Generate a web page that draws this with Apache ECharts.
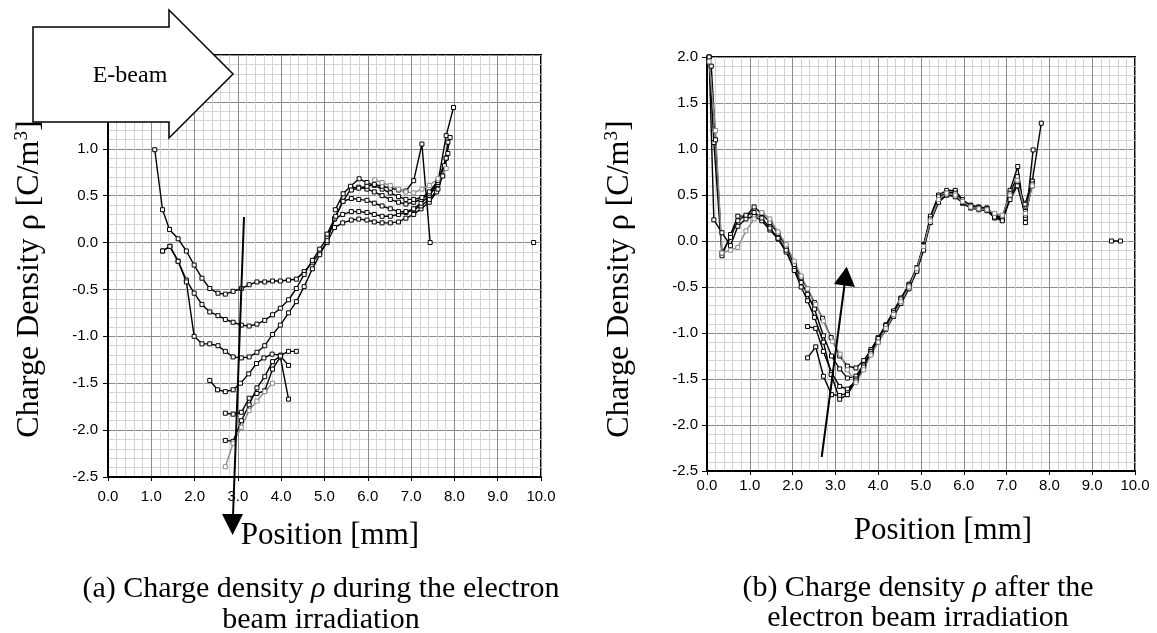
<!DOCTYPE html>
<html>
<head>
<meta charset="utf-8">
<script src="https://cdn.jsdelivr.net/npm/echarts@6/dist/echarts.min.js"></script>
<style type="text/css">
html,body{margin:0;padding:0;background:#fff;}
#chart{width:1157px;height:633px;}
</style>
</head>
<body>
<div id="chart"></div>
<script type="text/javascript">
// x ticks / y ticks
var xTicks = [0, 10, 1];
var yTicks = [-2.5, 2.0, 0.5];

// (a) during irradiation  [position mm, rho C/m3]
var a1 = [[1.08,0.99],[1.26,0.35],[1.42,0.14],[1.62,0.04],[1.81,-0.09],[1.99,-0.24],[2.17,-0.38],[2.35,-0.49],[2.54,-0.54],[2.71,-0.55],[2.89,-0.52],[3.08,-0.49],[3.26,-0.45],[3.44,-0.42],[3.62,-0.42],[3.8,-0.41],[3.98,-0.41],[4.17,-0.40],[4.35,-0.39],[4.53,-0.31],[4.72,-0.21],[4.89,-0.11],[5.06,0.0],[5.23,0.16],[5.42,0.21],[5.62,0.24],[5.79,0.25],[5.98,0.24],[6.15,0.22],[6.33,0.21],[6.52,0.21],[6.71,0.22],[6.88,0.26],[7.06,0.30],[7.23,0.36],[7.42,0.43],[7.59,0.54],[7.73,0.71],[7.85,0.95]];
var a2 = [[1.26,-0.09],[1.43,-0.04],[1.62,-0.2],[1.81,-0.4],[1.99,-0.54],[2.17,-0.66],[2.35,-0.74],[2.54,-0.78],[2.71,-0.82],[2.89,-0.85],[3.08,-0.88],[3.26,-0.89],[3.44,-0.87],[3.62,-0.83],[3.8,-0.77],[3.98,-0.70],[4.17,-0.61],[4.35,-0.49],[4.53,-0.34],[4.72,-0.19],[4.89,-0.07],[5.06,0.05],[5.23,0.25],[5.42,0.30],[5.62,0.33],[5.79,0.33],[5.98,0.32],[6.15,0.30],[6.33,0.28],[6.52,0.28],[6.71,0.30],[6.88,0.32],[7.06,0.35],[7.23,0.39],[7.42,0.46],[7.62,0.57],[7.77,0.82],[7.85,1.07]];
var a3 = [[1.26,-0.09],[1.43,-0.04],[1.62,-0.2],[1.81,-0.42],[1.99,-1.0],[2.17,-1.08],[2.35,-1.08],[2.54,-1.10],[2.71,-1.16],[2.89,-1.22],[3.08,-1.23],[3.26,-1.22],[3.44,-1.17],[3.62,-1.10],[3.8,-0.98],[3.98,-0.88],[4.17,-0.75],[4.35,-0.63],[4.53,-0.47],[4.72,-0.28],[4.89,-0.13],[5.06,0.02],[5.24,0.26],[5.42,0.44],[5.62,0.47],[5.79,0.46],[5.98,0.45],[6.15,0.42],[6.33,0.39],[6.52,0.36],[6.71,0.33],[6.88,0.33],[7.06,0.36],[7.23,0.42],[7.42,0.5],[7.62,0.62],[7.81,0.9]];
var a4 = [[5.06,0.09],[5.26,0.28],[5.43,0.44],[5.62,0.58],[5.79,0.59],[5.98,0.57],[6.15,0.54],[6.33,0.50],[6.52,0.46],[6.71,0.43],[6.88,0.41],[7.06,0.43],[7.23,0.46],[7.42,0.52],[7.62,0.64],[7.81,1.14],[7.98,1.44]];
var a5 = [[5.25,0.35],[5.43,0.52],[5.6,0.6],[5.8,0.68],[5.98,0.64],[6.15,0.61],[6.33,0.57],[6.52,0.53],[6.71,0.49],[6.88,0.46],[7.06,0.46],[7.25,0.48],[7.42,0.54],[7.62,0.66],[7.81,0.9],[7.9,1.12]];
var a6 = [[5.62,0.56],[5.79,0.58],[5.98,0.6],[6.15,0.62],[6.33,0.6],[6.52,0.58],[6.71,0.56],[6.88,0.55],[7.06,0.66],[7.25,1.05],[7.44,0.0]];
var a7 = [[6.16,0.67],[6.33,0.64],[6.52,0.61],[6.71,0.57],[6.88,0.54],[7.06,0.53],[7.25,0.57],[7.42,0.61],[7.62,0.68],[7.81,0.79]];
var aL1 = [[2.35,-1.47],[2.53,-1.57],[2.71,-1.59],[2.89,-1.57],[3.06,-1.50],[3.25,-1.40],[3.43,-1.29],[3.6,-1.23],[3.79,-1.19],[3.99,-1.2],[4.17,-1.16],[4.35,-1.16]];
var aL2 = [[2.71,-1.82],[2.89,-1.83],[3.08,-1.81],[3.26,-1.66],[3.44,-1.61],[3.62,-1.58],[3.8,-1.35],[3.98,-1.22],[4.17,-1.67]];
var aL3 = [[2.71,-2.11],[2.89,-2.12],[3.08,-1.9],[3.26,-1.73],[3.44,-1.55],[3.62,-1.43],[3.8,-1.27],[3.98,-1.21],[4.17,-1.31]];
var aL4 = [[2.71,-2.39],[2.89,-2.14],[3.08,-1.97],[3.26,-1.79],[3.44,-1.69],[3.62,-1.59],[3.8,-1.50]];
var aEnd = [[9.83,0.0]];

// (b) after irradiation
var b1 = [[0.05,2.0],[0.16,1.07],[0.35,-0.16],[0.55,0.07],[0.72,0.27],[0.91,0.27],[1.1,0.37],[1.28,0.30],[1.47,0.2],[1.66,0.08],[1.85,-0.06],[2.04,-0.26],[2.2,-0.4],[2.35,-0.52],[2.51,-0.67],[2.7,-0.84],[2.9,-1.05],[3.1,-1.25],[3.28,-1.36],[3.48,-1.38],[3.66,-1.3],[3.83,-1.18],[4.0,-1.05],[4.18,-0.91],[4.36,-0.76],[4.53,-0.62],[4.72,-0.47],[4.9,-0.29],[5.06,-0.04],[5.22,0.25],[5.41,0.47],[5.6,0.53],[5.8,0.53],[5.97,0.44],[6.16,0.39],[6.35,0.37],[6.54,0.36],[6.72,0.28],[6.9,0.26],[7.08,0.5],[7.25,0.62],[7.43,0.40],[7.6,0.65],[7.81,1.28]];
var b2 = [[0.05,2.0],[0.16,0.23],[0.35,0.09],[0.55,-0.05],[0.72,0.16],[0.91,0.24],[1.1,0.27],[1.28,0.22],[1.47,0.12],[1.66,0.02],[1.85,-0.12],[2.04,-0.3],[2.2,-0.45],[2.35,-0.58],[2.51,-0.74],[2.72,-1.03],[2.91,-1.25],[3.1,-1.39],[3.28,-1.49],[3.48,-1.47],[3.66,-1.34],[3.83,-1.2],[4.0,-1.07],[4.18,-0.93],[4.36,-0.79],[4.53,-0.64],[4.72,-0.49],[4.9,-0.31],[5.06,-0.06],[5.22,0.27],[5.41,0.5],[5.6,0.55],[5.8,0.55],[5.97,0.45],[6.16,0.38],[6.35,0.36],[6.54,0.35],[6.72,0.27],[6.9,0.25],[7.08,0.55],[7.26,0.81],[7.44,0.2],[7.62,0.99]];
var b3 = [[2.35,-0.93],[2.54,-0.95],[2.72,-1.2],[2.91,-1.43],[3.1,-1.58],[3.28,-1.61],[3.48,-1.52],[3.66,-1.36],[3.83,-1.22],[4.0,-1.08],[4.18,-0.94],[4.36,-0.8],[4.53,-0.65],[4.72,-0.5],[4.9,-0.32],[5.06,-0.08],[5.22,0.22],[5.41,0.45],[5.6,0.5],[5.8,0.5],[5.97,0.41],[6.16,0.36],[6.35,0.34],[6.54,0.33],[6.72,0.25],[6.9,0.23],[7.08,0.48],[7.25,0.64],[7.44,0.32],[7.6,0.6]];
var b4 = [[2.35,-1.27],[2.54,-1.15],[2.72,-1.47],[2.91,-1.67],[3.1,-1.68],[3.28,-1.65],[3.48,-1.5],[3.66,-1.35],[3.83,-1.2],[4.0,-1.06],[4.18,-0.92],[4.36,-0.78],[4.53,-0.63],[4.72,-0.48],[4.9,-0.3],[5.06,-0.05],[5.22,0.24],[5.41,0.48],[5.6,0.52],[5.8,0.52],[5.97,0.43],[6.16,0.38],[6.35,0.36],[6.54,0.35],[6.72,0.27],[6.9,0.24],[7.08,0.52],[7.25,0.7],[7.44,0.25],[7.6,0.65]];
var b5 = [[0.05,2.0],[0.1,1.9],[0.2,1.1],[0.35,-0.13],[0.55,0.04],[0.72,0.22],[0.91,0.28],[1.1,0.31],[1.28,0.25],[1.47,0.14],[1.66,0.03],[1.85,-0.1],[2.04,-0.32],[2.2,-0.5],[2.35,-0.65],[2.51,-0.83],[2.72,-1.1],[2.9,-1.45],[3.1,-1.72],[3.28,-1.67],[3.48,-1.52],[3.66,-1.37],[3.83,-1.22],[4.0,-1.1],[4.18,-0.96],[4.36,-0.82],[4.53,-0.68],[4.72,-0.52],[4.9,-0.33],[5.06,-0.1],[5.22,0.2],[5.41,0.42],[5.6,0.5],[5.8,0.48],[5.97,0.42],[6.16,0.36],[6.35,0.35],[6.54,0.34],[6.72,0.26],[6.9,0.22],[7.08,0.45],[7.25,0.6],[7.44,0.28],[7.6,0.62]];
var bGray = [[0.05,1.95],[0.2,1.2],[0.35,-0.13],[0.55,-0.1],[0.72,-0.07],[0.91,0.11],[1.1,0.24],[1.28,0.31],[1.47,0.24],[1.66,0.1],[1.85,-0.04],[2.04,-0.22],[2.2,-0.38],[2.35,-0.52],[2.54,-0.69],[2.72,-0.87],[2.93,-1.09],[3.11,-1.23],[3.28,-1.4],[3.48,-1.54],[3.66,-1.4],[3.83,-1.24],[4.0,-1.1],[4.18,-0.95],[4.36,-0.8],[4.53,-0.66],[4.72,-0.5],[4.9,-0.3],[5.06,-0.06],[5.22,0.22],[5.41,0.45],[5.6,0.52],[5.8,0.5],[5.97,0.43],[6.16,0.37],[6.35,0.35],[6.54,0.34],[6.72,0.3],[6.9,0.28],[7.08,0.5],[7.25,0.66],[7.44,0.3],[7.6,0.6]];
var bEnd = [[9.45,0.0],[9.66,0.0]];

var SERIF = "'Liberation Serif','Times New Roman',serif";
var SANS = "'Liberation Sans',Arial,sans-serif";

function mk(data, idx, col){
    return {
        type:'line', data:data, xAxisIndex:idx, yAxisIndex:idx,
        symbol:'rect', symbolSize:4, showSymbol:true,
        lineStyle:{color:col, width:1.4},
        itemStyle:{color:'#fff', borderColor:col, borderWidth:1},
        animation:false, z:3
    };
}

function xAx(idx, margin){
    return {
        type:'value', gridIndex:idx, min:xTicks[0], max:xTicks[1], interval:xTicks[2],
        axisLine:{show:true, onZero:false, lineStyle:{color:'#000', width:2}},
        axisTick:{show:true, length:4, lineStyle:{color:'#000'}},
        minorTick:{show:false, splitNumber:5},
        splitLine:{show:true, lineStyle:{color:'#8c8c8c', width:1}},
        minorSplitLine:{show:true, lineStyle:{color:'#d4d4d4', width:1}},
        axisLabel:{margin:margin, color:'#000', fontFamily:SANS, fontSize:15,
            formatter:function(v){return v.toFixed(1);}}
    };
}
function yAx(idx, margin){
    return {
        type:'value', gridIndex:idx, min:yTicks[0], max:yTicks[1], interval:yTicks[2],
        axisLine:{show:true, onZero:false, lineStyle:{color:'#000', width:2}},
        axisTick:{show:true, length:5, lineStyle:{color:'#000'}},
        minorTick:{show:false, splitNumber:5},
        splitLine:{show:true, lineStyle:{color:'#8c8c8c', width:1}},
        minorSplitLine:{show:true, lineStyle:{color:'#d4d4d4', width:1}},
        axisLabel:{margin:margin, color:'#000', fontFamily:SANS, fontSize:15,
            formatter:function(v){return v.toFixed(1);}}
    };
}

var chart = echarts.init(document.getElementById('chart'));
var option = {
    backgroundColor:'#fff',
    animation:false,
    grid:[
        {left:108, top:55, width:433, height:422, show:true, borderColor:'#000', borderWidth:2},
        {left:707, top:57, width:428, height:414, show:true, borderColor:'#000', borderWidth:2}
    ],
    xAxis:[xAx(0, 12), xAx(1, 7)],
    yAxis:[yAx(0, 10), yAx(1, 9)],
    series:[
        mk(a1,0,'#000'), mk(a2,0,'#000'), mk(a3,0,'#000'), mk(a4,0,'#000'),
        mk(a5,0,'#000'), mk(a6,0,'#000'), mk(a7,0,'#8a8a8a'),
        mk(aL1,0,'#000'), mk(aL2,0,'#000'), mk(aL3,0,'#000'), mk(aL4,0,'#8a8a8a'),
        mk(aEnd,0,'#000'),
        mk(b1,1,'#000'), mk(b2,1,'#000'), mk(b3,1,'#000'), mk(b4,1,'#000'),
        mk(b5,1,'#000'), mk(bGray,1,'#8a8a8a'), mk(bEnd,1,'#000')
    ],
    graphic:[
        // E-beam block arrow
        {type:'polygon', z:100, shape:{points:[[33,27],[169,27],[169,10],[233,74],[169,138],[169,122],[33,122]]},
            style:{fill:'#fff', stroke:'#000', lineWidth:1.5}},
        {type:'text', z:101, x:130, y:76, style:{text:'E-beam', font:'24px '+SERIF, fill:'#000', align:'center', verticalAlign:'middle'}},
        // time arrows
        {type:'line', z:100, shape:{x1:244, y1:217, x2:233, y2:516}, style:{stroke:'#000', lineWidth:2}},
        {type:'polygon', z:100, shape:{points:[[222,514],[243,514],[232.6,535]]}, style:{fill:'#000'}},
        {type:'line', z:100, shape:{x1:821.7, y1:457, x2:844.5, y2:285}, style:{stroke:'#000', lineWidth:2}},
        {type:'polygon', z:100, shape:{points:[[834,284],[855,287],[846.7,266.7]]}, style:{fill:'#000'}},
        // axis names
        {type:'text', z:101, x:30, y:279, rotation:Math.PI/2,
            style:{text:'Charge Density ρ [C/m{s|3}]', font:'32px '+SERIF, fill:'#000', align:'center', verticalAlign:'middle',
                rich:{s:{font:'19px '+SERIF, padding:[0,0,15,0]}}}},
        {type:'text', z:101, x:620, y:279, rotation:Math.PI/2,
            style:{text:'Charge Density ρ [C/m{s|3}]', font:'32px '+SERIF, fill:'#000', align:'center', verticalAlign:'middle',
                rich:{s:{font:'19px '+SERIF, padding:[0,0,15,0]}}}},
        {type:'text', z:101, x:330, y:536, style:{text:'Position [mm]', font:'31px '+SERIF, fill:'#000', align:'center', verticalAlign:'middle'}},
        {type:'text', z:101, x:943, y:531, style:{text:'Position [mm]', font:'31px '+SERIF, fill:'#000', align:'center', verticalAlign:'middle'}},
        // captions
        {type:'text', z:101, x:321, y:589, style:{text:'(a) Charge density {i|ρ} during the electron', font:'30px '+SERIF, fill:'#000', align:'center', verticalAlign:'middle',
            rich:{i:{font:'italic 30px '+SERIF}}}},
        {type:'text', z:101, x:321, y:620, style:{text:'beam irradiation', font:'30px '+SERIF, fill:'#000', align:'center', verticalAlign:'middle'}},
        {type:'text', z:101, x:918, y:588, style:{text:'(b) Charge density {i|ρ} after the', font:'30px '+SERIF, fill:'#000', align:'center', verticalAlign:'middle',
            rich:{i:{font:'italic 30px '+SERIF}}}},
        {type:'text', z:101, x:918, y:618, style:{text:'electron beam irradiation', font:'30px '+SERIF, fill:'#000', align:'center', verticalAlign:'middle'}}
    ]
};
chart.setOption(option);
window.onresize = chart.resize;
</script>
</body>
</html>
